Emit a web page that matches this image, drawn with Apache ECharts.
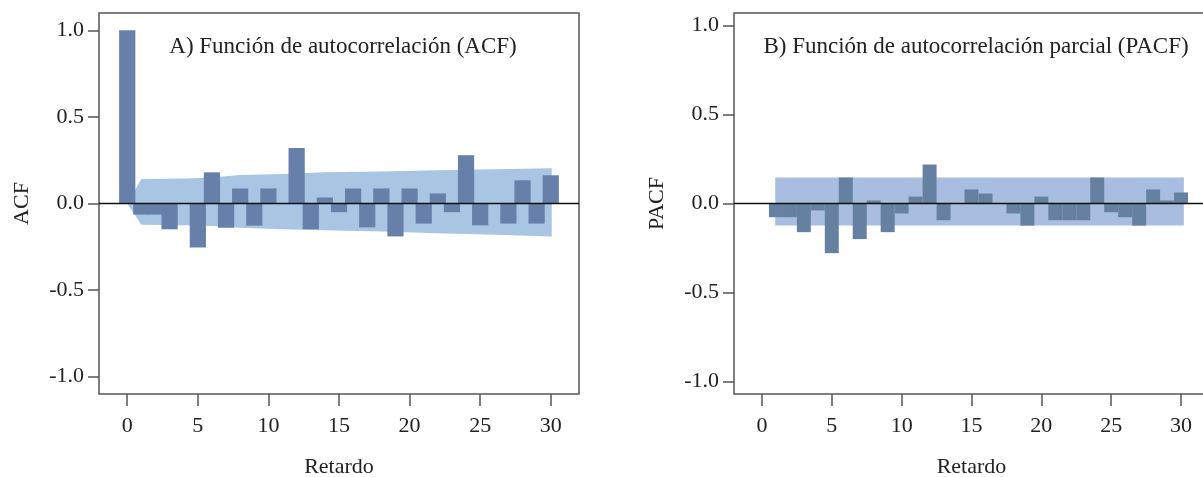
<!DOCTYPE html>
<html>
<head>
<meta charset="utf-8">
<script src="https://cdn.jsdelivr.net/npm/echarts@6/dist/echarts.min.js"></script>
<style>
html,body{margin:0;padding:0;background:#fff;overflow:hidden;}
#chart{width:1203px;height:477px;}
</style>
</head>
<body>
<div id="chart"></div>
<script>
// ---- Data ----
const acfLags = [0,1,2,3,4,5,6,7,8,9,10,11,12,13,14,15,16,17,18,19,20,21,22,23,24,25,26,27,28,29,30];
const acfValues = [1.0,-0.064,-0.064,-0.149,0,-0.254,0.180,-0.140,0.087,-0.128,0.087,0,0.320,-0.149,0.035,-0.050,0.087,-0.138,0.087,-0.190,0.087,-0.116,0.058,-0.050,0.279,-0.126,0,-0.116,0.134,-0.116,0.163];
const acfBandLags = [0,1,4,6,8,11,14,18,22,26,30.07];
const acfBandUpper = [0,0.142,0.145,0.150,0.165,0.170,0.180,0.185,0.192,0.198,0.203];
const acfBandLower = [0,-0.122,-0.126,-0.130,-0.140,-0.148,-0.155,-0.162,-0.172,-0.181,-0.190];

const pacfLags = [1,2,3,4,5,6,7,8,9,10,11,12,13,14,15,16,17,18,19,20,21,22,23,24,25,26,27,28,29,30];
const pacfValues = [-0.077,-0.077,-0.161,-0.039,-0.279,0.146,-0.200,0.017,-0.161,-0.056,0.039,0.219,-0.094,0,0.079,0.056,0,-0.056,-0.124,0.039,-0.094,-0.094,-0.094,0.146,-0.049,-0.077,-0.124,0.079,0.017,0.062];
const pacfBandLags = [0.95,30.2];
const pacfBandUpper = [0.146,0.146];
const pacfBandLower = [-0.124,-0.124];

const xTicks = [0,5,10,15,20,25,30];
const yTicks = [-1,-0.5,0,0.5,1];

const titleA = 'A) Función de autocorrelación (ACF)';
const titleB = 'B) Función de autocorrelación parcial (PACF)';

// ---- Styling ----
const FONT = 'Liberation Serif';
const AXC = '#555555';
const TXT = '#222222';

function bandSeries(gridIdx, lags, up, lo, color) {
  return {
    type: 'custom', xAxisIndex: gridIdx, yAxisIndex: gridIdx, silent: true, z: 1,
    data: [[lags[0], 0]],
    renderItem: function (params, api) {
      const pts = [];
      for (let i = 0; i < lags.length; i++) pts.push(api.coord([lags[i], up[i]]));
      for (let i = lags.length - 1; i >= 0; i--) pts.push(api.coord([lags[i], lo[i]]));
      return { type: 'polygon', shape: { points: pts }, style: { fill: color } };
    }
  };
}
function barSeries(gridIdx, lags, vals, w, color) {
  return {
    type: 'custom', xAxisIndex: gridIdx, yAxisIndex: gridIdx, silent: true, z: 2,
    data: lags.map((l, i) => [l, vals[i]]),
    renderItem: function (params, api) {
      const x = api.value(0), v = api.value(1);
      const p0 = api.coord([x - w / 2, 0]);
      const p1 = api.coord([x + w / 2, v]);
      return { type: 'rect', shape: { x: p0[0], y: Math.min(p0[1], p1[1]), width: p1[0] - p0[0], height: Math.abs(p1[1] - p0[1]) }, style: { fill: color } };
    },
    markLine: {
      silent: true, symbol: ['none', 'none'], label: { show: false },
      lineStyle: { color: '#111', width: 1.3, type: 'solid' },
      data: [{ yAxis: 0 }], animation: false
    }
  };
}
function xAxis(gridIdx) {
  return {
    type: 'value', gridIndex: gridIdx, min: -2, max: 32, position: 'bottom',
    axisLine: { show: false, onZero: false },
    axisTick: { show: true, length: 12, lineStyle: { color: AXC, width: 1.5 }, customValues: xTicks },
    axisLabel: { customValues: xTicks, margin: 21, color: TXT, fontFamily: FONT, fontSize: 22 },
    splitLine: { show: false },
    name: 'Retardo', nameLocation: 'middle', nameGap: 62,
    nameTextStyle: { fontFamily: FONT, fontSize: 22, color: TXT }
  };
}
function yAxis(gridIdx, lim, name) {
  return {
    type: 'value', gridIndex: gridIdx, min: -lim, max: lim, position: 'left',
    axisLine: { show: false, onZero: false },
    axisTick: { show: true, length: 11, lineStyle: { color: AXC, width: 1.5 }, customValues: yTicks },
    axisLabel: { customValues: yTicks, margin: 15, color: TXT, fontFamily: FONT, fontSize: 22, formatter: v => v.toFixed(1) },
    splitLine: { show: false },
    name: name, nameLocation: 'middle', nameGap: 66, nameRotate: 90,
    nameTextStyle: { fontFamily: FONT, fontSize: 22, color: TXT }
  };
}

const chart = echarts.init(document.getElementById('chart'), null, { renderer: 'canvas' });
chart.setOption({
  animation: false,
  backgroundColor: '#ffffff',
  grid: [
    { left: 99, top: 13, width: 480, height: 381, show: true, borderColor: AXC, borderWidth: 1.5, backgroundColor: 'transparent', containLabel: false, outerBoundsMode: 'none' },
    { left: 734, top: 13, width: 475, height: 381, show: true, borderColor: AXC, borderWidth: 1.5, backgroundColor: 'transparent', containLabel: false, outerBoundsMode: 'none' }
  ],
  xAxis: [xAxis(0), xAxis(1)],
  yAxis: [yAxis(0, 1.1, 'ACF'), yAxis(1, 1.07, 'PACF')],
  graphic: [
    { type: 'text', x: 343, y: 47, style: { text: titleA, textAlign: 'center', textVerticalAlign: 'middle', fontFamily: FONT, fontSize: 23, fill: TXT } },
    { type: 'text', x: 976, y: 47, style: { text: titleB, textAlign: 'center', textVerticalAlign: 'middle', fontFamily: FONT, fontSize: 23, fill: TXT } }
  ],
  series: [
    bandSeries(0, acfBandLags, acfBandUpper, acfBandLower, '#a8c6e4'),
    barSeries(0, acfLags, acfValues, 1.15, '#6780aa'),
    bandSeries(1, pacfBandLags, pacfBandUpper, pacfBandLower, '#a9bde0'),
    barSeries(1, pacfLags, pacfValues, 1.0, '#6580a0')
  ]
});
</script>
</body>
</html>
